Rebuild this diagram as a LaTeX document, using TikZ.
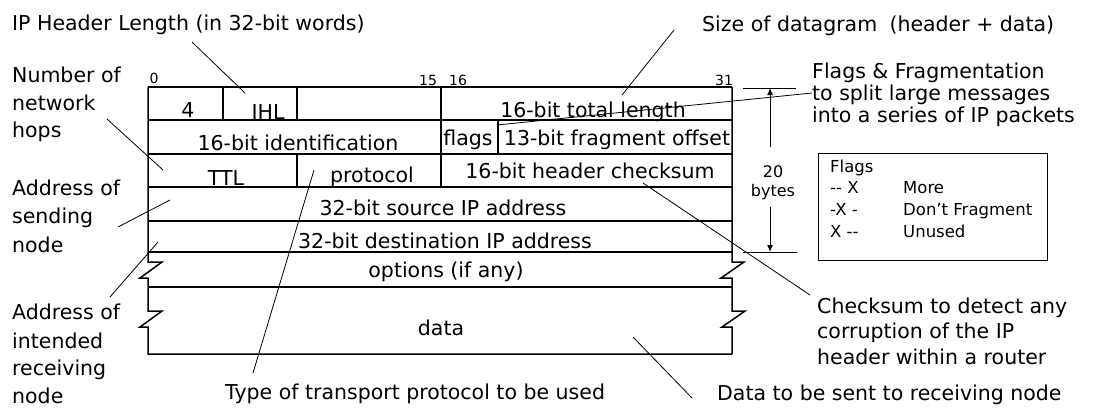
\documentclass[tikz,border=0pt]{standalone}
\usepackage{fontspec}
\setmainfont{DejaVu Sans}
\usetikzlibrary{arrows.meta}
\begin{document}
\begin{tikzpicture}[x=1pt,y=-1pt,
  grid/.style={line width=1.5pt, line join=miter},
  conn/.style={line width=0.8pt},
  cell/.style={font=\fontsize{20.5}{24}\selectfont, anchor=base, inner sep=0pt},
  lbl/.style={font=\fontsize{20.5}{24}\selectfont, anchor=base west, inner sep=0pt},
  colnum/.style={font=\fontsize{14}{16}\selectfont, anchor=base, inner sep=0pt},
  dimtext/.style={font=\fontsize{16}{18}\selectfont, anchor=base, inner sep=0pt},
  flg/.style={font=\fontsize{16.5}{20}\selectfont, anchor=base west, inner sep=0pt},
  dimarrow/.style={line width=1pt, -{Latex[length=7pt,width=6pt]}}]
\useasboundingbox (0,0) rectangle (1094,410);

% ---------- table ----------
\foreach \yy in {87,120,154,187,221,252,287}
  \draw[grid] (148,\yy) -- (732,\yy);
\draw[grid] (148,87) -- (148,262) -- (162,262) -- (140,278) -- (148,278)
  -- (148,311) -- (162,311) -- (140,327) -- (148,327) -- (148,354) -- (732,354);
\draw[grid] (732,87) -- (732,262) -- (744,262) -- (721,278) -- (732,278)
  -- (732,311) -- (745,311) -- (722,327) -- (732,327) -- (732,354);
\draw[grid] (441,87) -- (441,187);
\draw[grid] (223,87) -- (223,120);
\draw[grid] (297,87) -- (297,120);
\draw[grid] (297,154) -- (297,187);
\draw[grid] (498,120) -- (498,154);

% column numbers
\node[colnum] (c0) at (154,83) {0};
\node[colnum] (c15) at (428,85) {15};
\node[colnum] (c16) at (458,85) {16};
\node[colnum] (c31) at (724,85) {31};

% cell texts
\node[cell] (ver) at (188,117) {4};
\node[cell] (ihl) at (268,119) {IHL};
\node[cell] (tlen) at (593,117) {16-bit total length};
\node[cell] (ident) at (298,150) {16-bit identification};
\node[cell] (flags) at (468,145) {flags};
\node[cell] (frag) at (617,145) {13-bit fragment offset};
\node[cell] (ttl) at (226,185) {TTL};
\node[cell] (proto) at (372,182) {protocol};
\node[cell] (csum) at (590,178) {16-bit header checksum};
\node[cell] (src) at (443,215) {32-bit source IP address};
\node[cell] (dst) at (445,248) {32-bit destination IP address};
\node[cell] (opt) at (446,277) {options (if any)};
\node[cell] (data) at (441,335) {data};

% ---------- 20 bytes dimension ----------
\coordinate (dimtop) at (770,88);
\coordinate (dimbot) at (770,252);
\draw[line width=1pt] (743,88) -- (796,88);
\draw[line width=1pt] (743,252) -- (797,252);
\node[dimtext] (twenty) at (773,177) {20};
\node[dimtext] (bytes) at (773,196) {bytes};
\draw[dimarrow] (770,147) -- (dimtop);
\draw[dimarrow] (770,207) -- (dimbot);

% ---------- labels ----------
\node[lbl] (lihl) at (12,30) {IP Header Length (in 32-bit words)};
\node[lbl] (lhop1) at (12,82) {Number of};
\node[lbl] (lhop2) at (12,110) {network};
\node[lbl] (lhop3) at (12,137) {hops};
\node[lbl] (lsnd1) at (12,195) {Address of};
\node[lbl] (lsnd2) at (12,223) {sending};
\node[lbl] (lsnd3) at (12,252) {node};
\node[lbl] (lrcv1) at (12,319) {Address of};
\node[lbl] (lrcv2) at (12,348) {intended};
\node[lbl] (lrcv3) at (12,375) {receiving};
\node[lbl] (lrcv4) at (12,403) {node};
\node[lbl] (lproto) at (225,399) {Type of transport protocol to be used};
\node[lbl] (ldata) at (717,400) {Data to be sent to receiving node};
\node[lbl] (lsize) at (702,31) {Size of datagram\hspace{0.6em}(header + data)};
\node[lbl] (lfrag1) at (812,78) {Flags \& Fragmentation};
\node[lbl] (lfrag2) at (812,100) {to split large messages};
\node[lbl] (lfrag3) at (812,122) {into a series of IP packets};
\node[lbl] (lcs1) at (817,313) {Checksum to detect any};
\node[lbl] (lcs2) at (817,338) {corruption of the IP};
\node[lbl] (lcs3) at (817,364) {header within a router};

% flags legend
\node[draw, line width=1.2pt, minimum width=229pt, minimum height=107pt, anchor=north west, inner sep=0pt] (legend) at (818,153) {};
\node[flg] (fh) at (830,172) {Flags};
\node[flg] (f1a) at (830,193) {-{}- X};
\node[flg] (f1b) at (903,193) {More};
\node[flg] (f2a) at (830,215) {-X -};
\node[flg] (f2b) at (903,215) {Don't Fragment};
\node[flg] (f3a) at (830,237) {X -{}-};
\node[flg] (f3b) at (903,237) {Unused};

% ---------- connectors ----------
\coordinate (aIHLs) at (192,42);   \coordinate (aIHLe) at (245,93);
\coordinate (aHOPs) at (107,119);  \coordinate (aHOPe) at (163,170);
\coordinate (aSNDs) at (118,227);  \coordinate (aSNDe) at (170,200);
\coordinate (aRCVs) at (110,297);  \coordinate (aRCVe) at (158,242);
\coordinate (aPROs) at (253,373);  \coordinate (aPROe) at (314,170);
\coordinate (aSIZs) at (674,30);   \coordinate (aSIZe) at (622,95);
\coordinate (aFRGs) at (812,93);   \coordinate (aFRGe) at (497,125);
\coordinate (aCSMs) at (810,295);  \coordinate (aCSMe) at (643,183);
\coordinate (aDATs) at (692,398);  \coordinate (aDATe) at (633,337);
\draw[conn] (aIHLs) -- (aIHLe);
\draw[conn] (aHOPs) -- (aHOPe);
\draw[conn] (aSNDs) -- (aSNDe);
\draw[conn] (aRCVs) -- (aRCVe);
\draw[conn] (aPROs) -- (aPROe);
\draw[conn] (aSIZs) -- (aSIZe);
\draw[conn] (aFRGs) -- (aFRGe);
\draw[conn] (aCSMs) -- (aCSMe);
\draw[conn] (aDATs) -- (aDATe);
\end{tikzpicture}
\end{document}
